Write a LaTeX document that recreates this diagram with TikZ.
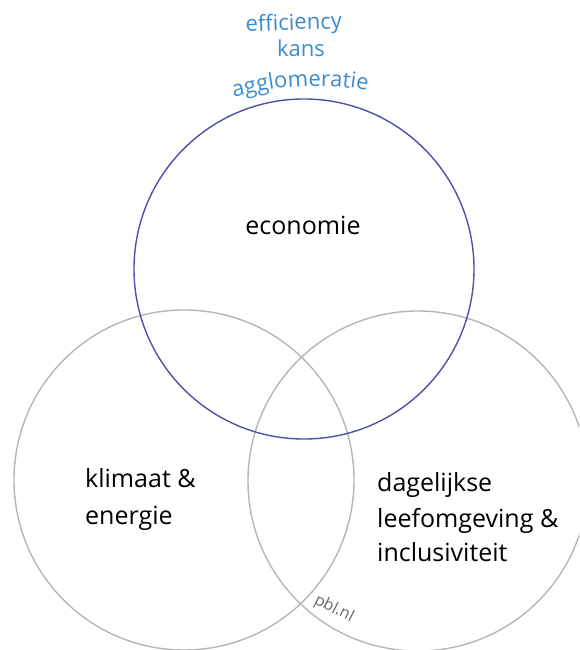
\documentclass[tikz,border=0pt]{standalone}
\usepackage{fontspec}
\setmainfont{Open Sans}
\usetikzlibrary{decorations.text}
\definecolor{econline}{RGB}{80,80,170}
\definecolor{greyline}{RGB}{182,182,182}
\definecolor{textblue}{RGB}{60,140,205}
\definecolor{textgrey}{RGB}{105,105,105}
\tikzset{
  circ/.style={line width=1.4pt},
  lbl/.style={font=\fontsize{25}{30}\selectfont, text=black, inner sep=0pt},
  bluelbl/.style={font=\fontsize{22}{26}\selectfont, text=textblue, inner sep=0pt},
}
\begin{document}
\begin{tikzpicture}[x=1pt,y=1pt]
\useasboundingbox (0,0) rectangle (579,650);
\clip (0,0) rectangle (579,650);
% circles
\draw[circ, greyline] (184,170) circle[radius=170];
\draw[circ, greyline] (418,169) circle[radius=170];
\draw[circ, econline] (304,381) circle[radius=170];
% labels
\node[lbl, anchor=base] (econ) at (303,415) {economie};
\node[lbl, anchor=base west] (klim1) at (85,162) {klimaat \&};
\node[lbl, anchor=base west] (klim2) at (85,125) {energie};
\node[lbl, anchor=base west] (dag1) at (377,158) {dagelijkse};
\node[lbl, anchor=base west] (dag2) at (377,122) {leefomgeving \&};
\node[lbl, anchor=base west] (dag3) at (377,88) {inclusiviteit};
% blue words
\node[bluelbl, anchor=base, rotate=2] (eff) at (294,620) {efficiency};
\node[bluelbl, anchor=base] (kans) at (301,593) {kans};
\path[decorate, decoration={text along path, text align=center,
  text={|\fontsize{22}{26}\selectfont\color{textblue}|agglomeratie}}]
  (316,264) ++(120:300) arc[start angle=120, end angle=66, radius=300];
% credit
\node[font=\fontsize{16}{18}\selectfont, text=textgrey, rotate=-27, inner sep=0pt] (pbl) at (334,41) {pbl.nl};
\end{tikzpicture}
\end{document}
